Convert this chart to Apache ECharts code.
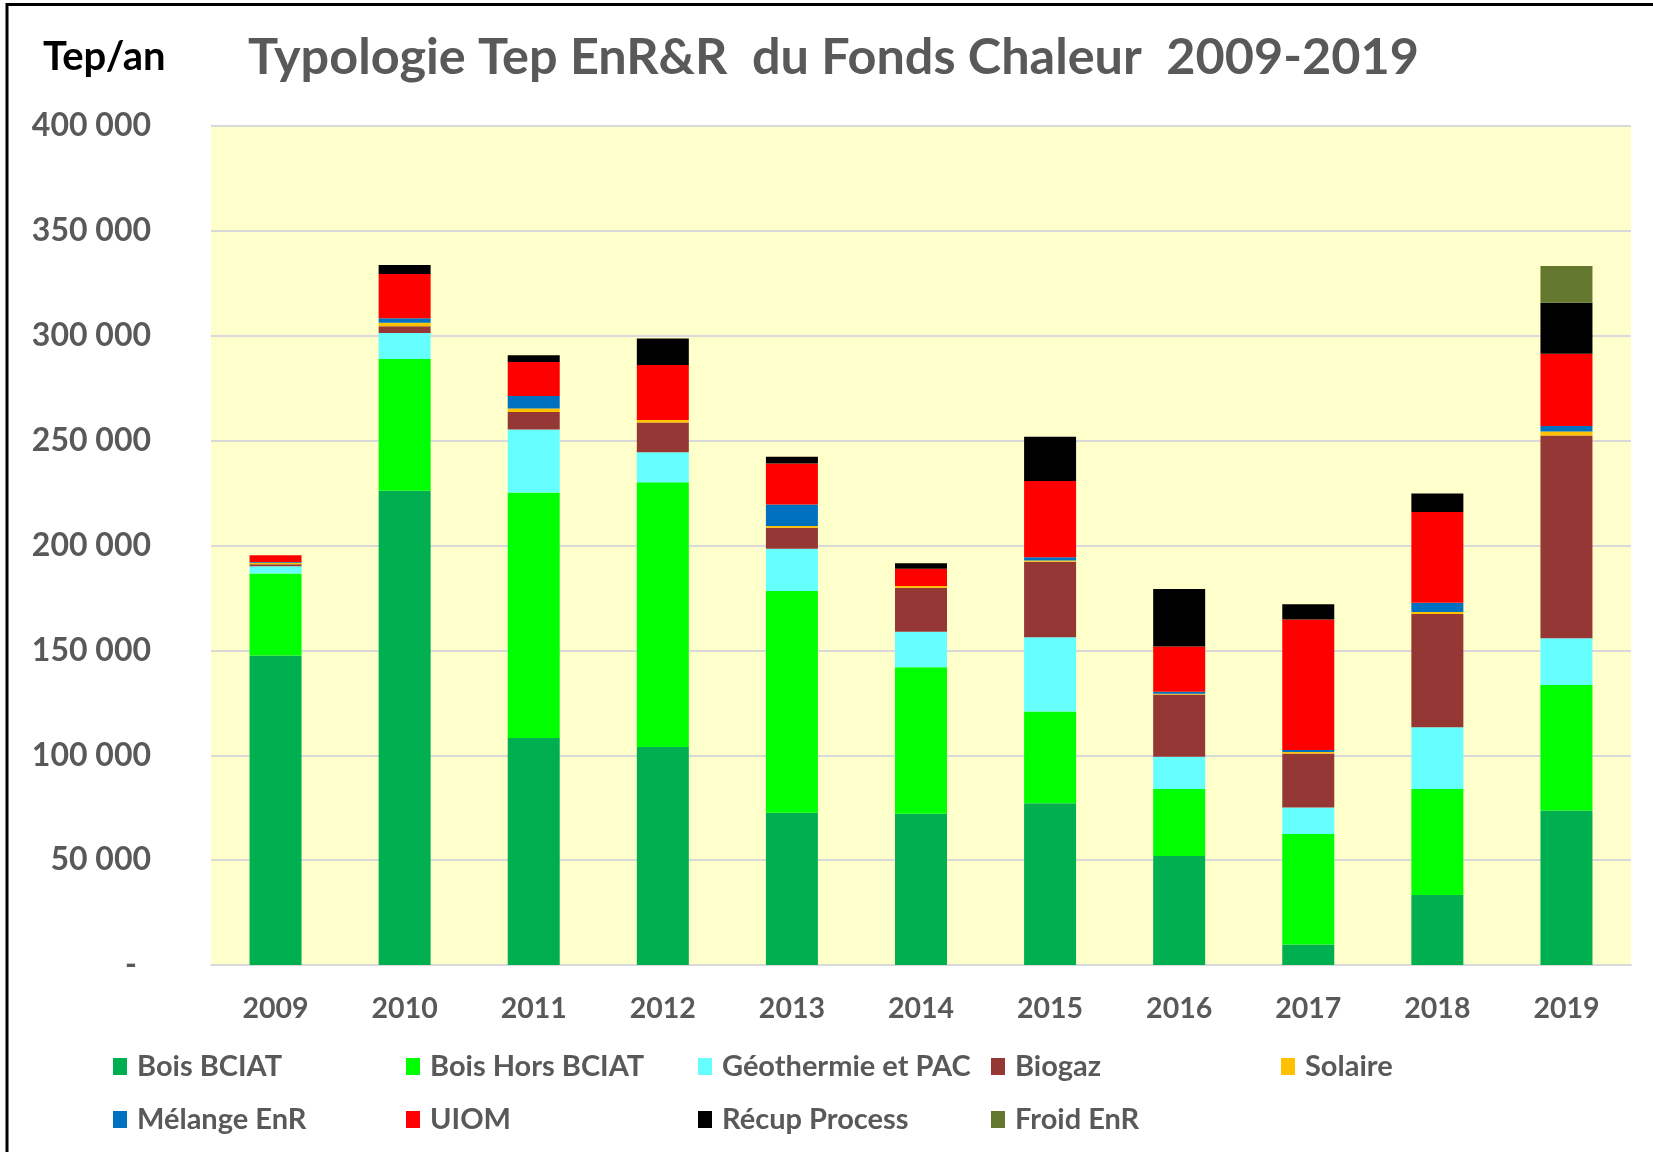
<!DOCTYPE html>
<html>
<head>
<meta charset="utf-8">
<title>Typologie Tep EnR&R du Fonds Chaleur 2009-2019</title>
<script src="https://cdn.jsdelivr.net/npm/echarts@6/dist/echarts.min.js"></script>
<style>
  html, body { margin: 0; padding: 0; background: #fff; }
  #chart { width: 1653px; height: 1152px; }
</style>
</head>
<body>
<div id="chart"></div>
<script>
// années
const years = ['2009', '2010', '2011', '2012', '2013', '2014', '2015', '2016', '2017', '2018', '2019']
// Tep/an par filière
const boisBciat   = [147500, 226100, 108200, 103900, 72600, 72100, 77100, 52000, 9800, 33400, 73600]
const boisHors    = [39100, 62800, 117100, 126200, 105700, 69800, 43700, 31900, 52700, 50500, 59900]
const geothermie  = [3500, 12400, 30000, 14300, 20200, 17000, 35500, 15400, 12600, 29500, 22300]
const biogaz      = [1000, 3200, 8400, 14300, 10000, 21000, 35900, 29700, 25700, 54000, 96600]
const solaire     = [700, 1700, 1600, 1100, 800, 800, 600, 300, 700, 900, 1900]
const melange     = [300, 2200, 6000, 0, 10300, 0, 1600, 1000, 1000, 4400, 2700]
const uiom        = [3200, 21000, 16200, 26200, 19500, 8200, 36400, 21600, 62200, 43300, 34400]
const recup       = [0, 4300, 3200, 12700, 3200, 2600, 21100, 27400, 7300, 8800, 24300]
const froid       = [0, 0, 0, 0, 0, 0, 0, 0, 0, 0, 17500]
// graduations
const yTicks = [0, 50000, 100000, 150000, 200000, 250000, 300000, 350000, 400000]

const seriesDefs = [
  { name: 'Bois BCIAT', data: boisBciat, color: '#00B050' },
  { name: 'Bois Hors BCIAT', data: boisHors, color: '#00FF00' },
  { name: 'Géothermie et PAC', data: geothermie, color: '#66FFFF' },
  { name: 'Biogaz', data: biogaz, color: '#953735' },
  { name: 'Solaire', data: solaire, color: '#FFC000' },
  { name: 'Mélange EnR', data: melange, color: '#0070C0' },
  { name: 'UIOM', data: uiom, color: '#FF0000' },
  { name: 'Récup Process', data: recup, color: '#000000' },
  { name: 'Froid EnR', data: froid, color: '#63772F' }
]

// position des légendes (2 lignes)
const legendPos = [
  [113, 0], [406, 0], [698, 0], [991, 0], [1281, 0],
  [113, 1], [406, 1], [698, 1], [991, 1]
]

const font = 'Lato, "Open Sans", sans-serif'
const grey = '#595959'

const chart = echarts.init(document.getElementById('chart'))

const fmt = v => {
  if (v === 0) return '{z|-}'
  return String(v).replace(/\B(?=(\d{3})+(?!\d))/g, ' ')
}

const option = {
  backgroundColor: '#fff',
  animation: false,
  title: [
    {
      text: 'Typologie Tep EnR&R  du Fonds Chaleur  2009-2019',
      left: 243, top: 28,
      textStyle: { fontFamily: font, fontSize: 50.4, fontWeight: 'bold', color: grey }
    },
    {
      text: 'Tep/an',
      left: 38, top: 32,
      textStyle: { fontFamily: font, fontSize: 40, fontWeight: 'bold', color: '#000' }
    }
  ],
  legend: seriesDefs.map((s, i) => ({
    data: [s.name],
    left: legendPos[i][0],
    top: 1052 + legendPos[i][1] * 53,
    icon: 'rect',
    itemWidth: 14,
    itemHeight: 17,
    padding: 0,
    textStyle: { fontFamily: font, fontSize: 29, fontWeight: 'bold', color: grey, padding: [0, 0, 0, 5] }
  })),
  grid: { left: 211, right: 22, top: 126, bottom: 187, backgroundColor: '#FFFFCC', show: true, borderWidth: 0 },
  xAxis: {
    type: 'category',
    data: years,
    axisLine: { lineStyle: { color: '#d9d9d9', width: 2 } },
    axisTick: { show: false },
    axisLabel: { fontFamily: font, fontSize: 28.5, fontWeight: 'bold', color: grey, margin: 29 }
  },
  yAxis: {
    type: 'value',
    min: yTicks[0],
    max: yTicks[yTicks.length - 1],
    interval: yTicks[1] - yTicks[0],
    axisLine: { show: false },
    axisTick: { show: false },
    splitLine: { lineStyle: { color: '#d9d9d9', width: 2 } },
    axisLabel: {
      fontFamily: font, fontSize: 32, fontWeight: 'bold', color: grey, margin: 60,
      formatter: fmt,
      rich: { z: { fontFamily: font, fontSize: 32, fontWeight: 'bold', color: grey, padding: [0, 14, 0, 0] } }
    }
  },
  series: seriesDefs.map(s => ({
    name: s.name,
    type: 'bar',
    stack: 'total',
    barWidth: 52,
    data: s.data,
    itemStyle: { color: s.color }
  })),
  graphic: [
    {
      type: 'polyline',
      shape: { points: [[7, 1152], [7, 4.5], [1653, 4.5]] },
      style: { stroke: '#000', lineWidth: 3, fill: null }
    }
  ]
}

chart.setOption(option)
</script>
</body>
</html>
